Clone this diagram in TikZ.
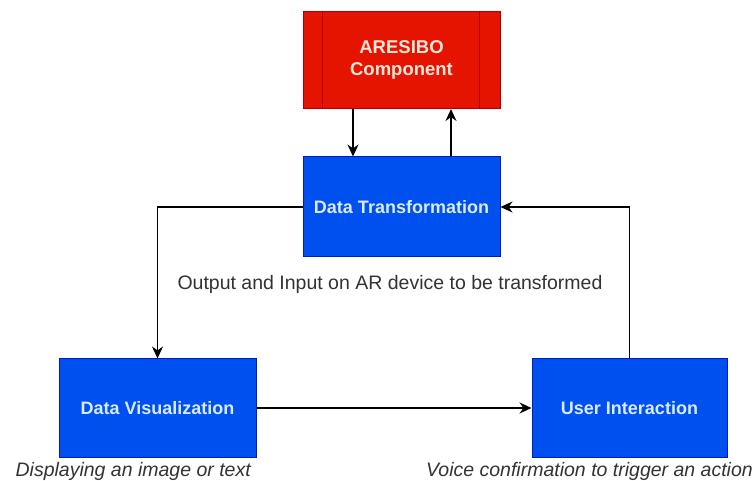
\documentclass[tikz,border=0pt]{standalone}
\usepackage{fontspec}
\setmainfont{Liberation Sans}
\usetikzlibrary{arrows.meta}
\definecolor{bfill}{HTML}{0050EF}
\definecolor{bdraw}{HTML}{001DBC}
\definecolor{rfill}{HTML}{E51400}
\definecolor{rdraw}{HTML}{B20000}
\definecolor{btext}{HTML}{D8ECFF}
\definecolor{rtext}{HTML}{FFE6D8}
\definecolor{captext}{HTML}{333333}
\tikzset{
  bluebox/.style={draw=bdraw, fill=bfill, line width=1pt, minimum width=197pt, minimum height=98pt, inner sep=0pt, text=btext, font=\fontsize{18}{21}\selectfont\bfseries, align=center},
  redbox/.style={draw=rdraw, fill=rfill, line width=1pt, minimum width=197pt, minimum height=97pt, inner sep=0pt, text=rtext, font=\fontsize{18.5}{22}\selectfont\bfseries, align=center},
  arr/.style={draw=black, line width=1.3pt, -{Stealth[length=12pt,width=11pt]}},
  lbl/.style={font=\fontsize{19.5}{22}\selectfont, text=captext, inner sep=0pt},
  captiontext/.style={font=\fontsize{19.5}{22}\selectfont\itshape, text=captext, inner sep=0pt}
}
\begin{document}
\begin{tikzpicture}[x=1pt,y=-1pt]
\useasboundingbox[fill=white] (0,0) rectangle (756,481);
\node[redbox] (ar) at (401.5,60) {ARESIBO\\Component};
\draw[rdraw, line width=1pt] ([xshift=20pt]ar.north west) -- ([xshift=20pt]ar.south west);
\draw[rdraw, line width=1pt] ([xshift=-21pt]ar.north east) -- ([xshift=-21pt]ar.south east);
\node[bluebox, minimum height=100pt] (dt) at (401.5,207) {Data Transformation};
\node[bluebox] (dv) at (157.5,408) {Data Visualization};
\node[bluebox, minimum width=195pt] (ui) at (629.5,408) {User Interaction};
\draw[arr] ([xshift=-48.5pt]ar.south) -- ([xshift=-48.5pt]dt.north);
\draw[arr] ([xshift=49.5pt]dt.north) -- ([xshift=49.5pt]ar.south);
\draw[arr] (dt.west) -| (dv.north);
\draw[arr] (dv.east) -- (ui.west);
\draw[arr] (ui.north) |- (dt.east);
\node[lbl] (l1) at (390,284) {Output and Input on AR device to be transformed};
\node[captiontext, anchor=east] (c1) at (251,471) {Displaying an image or text};
\node[captiontext, anchor=east] (c2) at (753,471) {Voice confirmation to trigger an action};
\end{tikzpicture}
\end{document}
